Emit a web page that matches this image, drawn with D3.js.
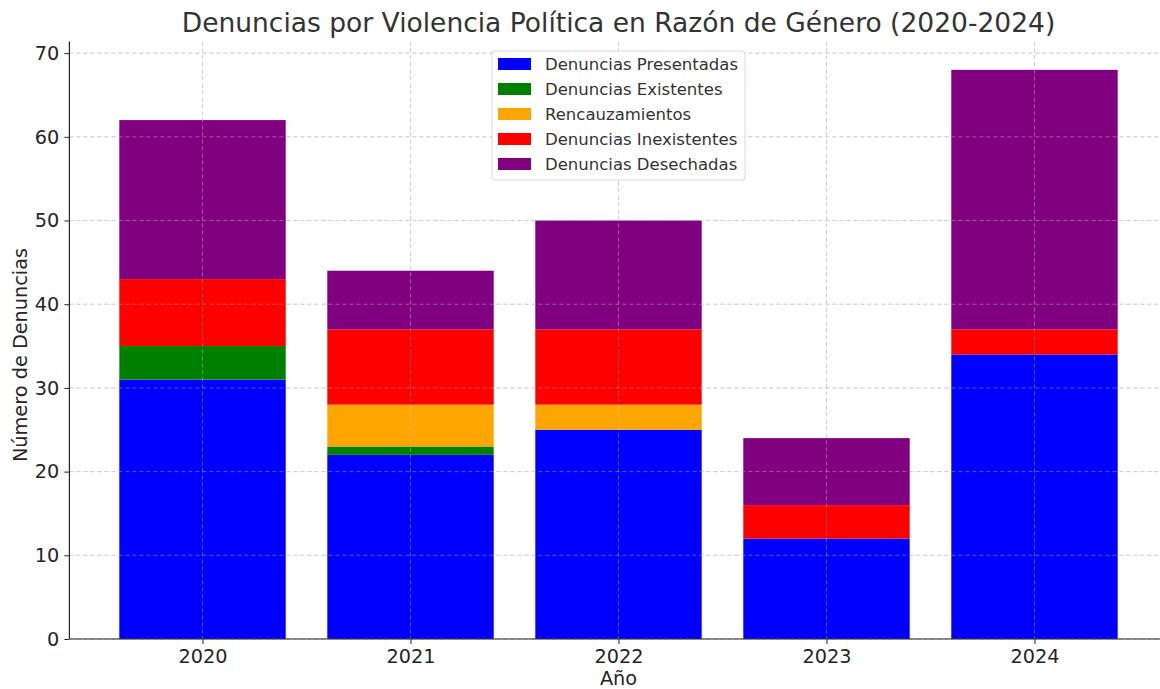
<!DOCTYPE html>
<html><head><meta charset="utf-8">
<script src="https://cdn.jsdelivr.net/npm/d3@7"></script>
<style>body{margin:0;background:#fff;}svg{display:block;font-family:"DejaVu Sans",sans-serif;}</style>
</head><body><svg id="c" width="1160" height="689"></svg>
<script>
const years = ["2020","2021","2022","2023","2024"];
const seriesNames = ["Denuncias Presentadas","Denuncias Existentes","Rencauzamientos","Denuncias Inexistentes","Denuncias Desechadas"];
const presentadas = [31,22,25,12,34];
const existentes = [4,1,0,0,0];
const rencauzamientos = [0,5,3,0,0];
const inexistentes = [8,9,9,4,3];
const desechadas = [19,7,13,8,31];
const colors = ["#0000ff","#008000","#ffa500","#ff0000","#800080"];
const yTicks = [0,10,20,30,40,50,60,70];

(function(){
const seriesVals = [presentadas,existentes,rencauzamientos,inexistentes,desechadas];
const rows = years.map((yr,i)=>{const o={year:yr};seriesNames.forEach((s,k)=>o[s]=seriesVals[k][i]);return o;});
const stacked = d3.stack().keys(seriesNames)(rows);

const svg = d3.select("#c");
const L=69.4, R=1167.6, T=41.4, B=639;
const x = d3.scaleLinear().domain([-0.64,4.64]).range([L,R]);
const y = d3.scaleLinear().domain([0,71.4]).range([B,T]);
const bw = x(0.4)-x(-0.4);

function grid(color,op){
  const g = svg.append("g");
  g.selectAll(".gy").data(yTicks).join("line").attr("x1",L).attr("x2",R)
   .attr("y1",d=>y(d)).attr("y2",d=>y(d)).attr("stroke",color).attr("stroke-opacity",op)
   .attr("stroke-dasharray","4,3").attr("stroke-width",0.9);
  g.selectAll(".gx").data(years).join("line").attr("y1",T).attr("y2",B)
   .attr("x1",(d,i)=>x(i)).attr("x2",(d,i)=>x(i)).attr("stroke",color).attr("stroke-opacity",op)
   .attr("stroke-dasharray","4,3").attr("stroke-width",0.9);
}
grid("#b0b0b0",0.6);

stacked.forEach((s,k)=>{
  svg.append("g").attr("fill",colors[k]).selectAll("rect").data(s).join("rect")
   .attr("x",(d,i)=>x(i)-bw/2).attr("width",bw)
   .attr("y",d=>y(d[1])).attr("height",d=>y(d[0])-y(d[1]));
});
grid("#c8c8c8",0.5);

const ya = svg.append("g").attr("transform",`translate(${L},0)`)
 .call(d3.axisLeft(y).tickValues(yTicks).tickSize(5).tickPadding(5));
ya.select(".domain").attr("stroke","#262626").attr("stroke-width",1.2).attr("d",`M0,${T}V${B}`);
ya.selectAll(".tick line").attr("stroke","#262626");
ya.selectAll(".tick text").attr("font-size",19.3).attr("fill","#262626").attr("font-family","DejaVu Sans");

const xa = svg.append("g").attr("transform",`translate(0,${B})`)
 .call(d3.axisBottom(x).tickValues([0,1,2,3,4]).tickFormat(i=>years[i]).tickSize(5).tickPadding(5));
xa.select(".domain").attr("stroke","#262626").attr("stroke-width",1.2).attr("d",`M${L},0H${R}`);
xa.selectAll(".tick line").attr("stroke","#262626");
xa.selectAll(".tick text").attr("font-size",19.3).attr("fill","#262626").attr("font-family","DejaVu Sans");

svg.append("text").attr("x",(L+R)/2).attr("y",32).attr("text-anchor","middle")
 .attr("font-size",26.5).attr("fill","#333").text("Denuncias por Violencia Política en Razón de Género (2020-2024)");
svg.append("text").attr("x",x(2)).attr("y",685).attr("text-anchor","middle")
 .attr("font-size",19.3).attr("fill","#262626").text("Año");
svg.append("text").attr("transform",`translate(27,355) rotate(-90)`).attr("text-anchor","middle")
 .attr("font-size",19.3).attr("fill","#262626").text("Número de Denuncias");

const lg = svg.append("g").attr("transform","translate(492,51)");
lg.append("rect").attr("width",253).attr("height",129).attr("rx",3).attr("fill","#fff").attr("fill-opacity",0.85)
 .attr("stroke","#d8d8d8");
seriesNames.forEach((s,k)=>{
  const row = lg.append("g").attr("transform",`translate(6,${13+k*25})`);
  row.append("rect").attr("x",0).attr("y",-6).attr("width",33).attr("height",12).attr("fill",colors[k]);
  row.append("text").attr("x",47).attr("y",6).attr("font-size",16.5).attr("fill","#333").text(s);
});
})();
</script></body></html>
